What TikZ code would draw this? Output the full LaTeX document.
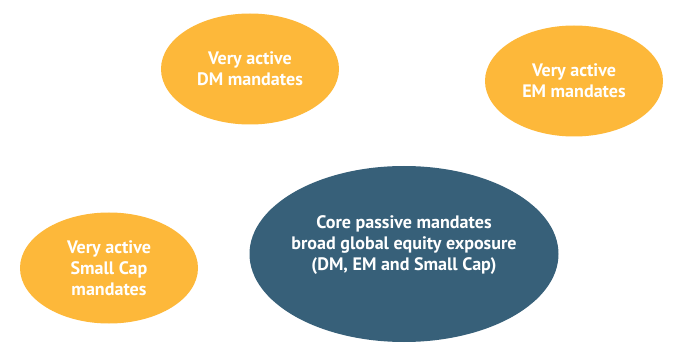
\documentclass[tikz,border=0pt]{standalone}
\usepackage{fontspec}
\setmainfont{PT Sans}
\definecolor{ActiveClr}{RGB}{253,184,58}
\definecolor{CoreClr}{RGB}{55,96,121}

\tikzset{
  mandate/.style={ellipse, fill=ActiveClr, text=white, font=\bfseries\fontsize{13}{15.2}\selectfont,
    align=center, minimum width=178*0.72pt, minimum height=111*0.72pt, inner ysep=0pt, inner xsep=-15pt},
  core/.style={mandate, fill=CoreClr, minimum width=309*0.72pt, minimum height=176*0.72pt}
}
\usetikzlibrary{shapes.geometric}

\begin{document}
\begin{tikzpicture}[x=0.72pt,y=-0.72pt]
\useasboundingbox (0,0) rectangle (700,360);

\node[mandate] (dm) at (250,69) {Very active\\DM mandates};
\node[mandate] (em) at (574,81) {Very active\\EM mandates};
\node[mandate] (sc) at (109,268) {Very active\\Small Cap\\mandates};

% text sits a bit above the middle
\node[core, text depth=16pt] (core) at (404,254) {Core passive mandates\\broad global equity exposure\\(DM, EM and Small Cap)};

\end{tikzpicture}
\end{document}
